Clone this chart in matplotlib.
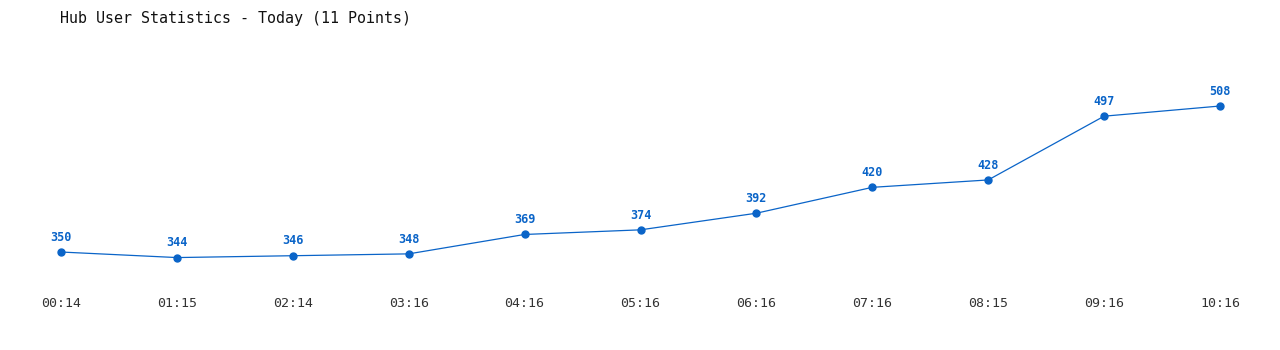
import numpy as np
import matplotlib.pyplot as plt

# hub user counts, sampled through today
times = ['00:14', '01:15', '02:14', '03:16', '04:16', '05:16',
         '06:16', '07:16', '08:15', '09:16', '10:16']
users = [350, 344, 346, 348, 369, 374, 392, 420, 428, 497, 508]

blue = '#0a64c8'

fig = plt.figure(figsize=(12.8, 3.5), dpi=100, facecolor='w')
ax = fig.add_axes([61 / 1280, 60 / 350, (1220 - 61) / 1280, 230 / 350])

x = np.arange(len(users))
ax.plot(x, users, color=blue, lw=0.9, marker='o', ms=5, mec=blue, mfc=blue,
        clip_on=False)

for xi, v in zip(x, users):
    ax.annotate(str(v), (xi, v), xytext=(0, 6), textcoords='offset points',
                ha='center', va='bottom', color=blue, fontsize=8.5,
                fontweight='bold', family='DejaVu Sans Mono')

ax.set_xlim(0, len(users) - 1)
ax.set_ylim(308.9, 557.8)
ax.set_xticks(x)
ax.set_xticklabels(times, family='DejaVu Sans Mono', fontsize=9.5, color='#333333')
ax.set_yticks([])
ax.tick_params(axis='x', length=0, pad=5)
for s in ax.spines.values():
    s.set_visible(False)

fig.text(60 / 1280, 1 - 18 / 350, 'Hub User Statistics - Today (11 Points)',
         family='DejaVu Sans Mono', fontsize=10.8, color='#111111',
         ha='left', va='center')

fig.savefig('out.png', dpi=100, facecolor='w')
